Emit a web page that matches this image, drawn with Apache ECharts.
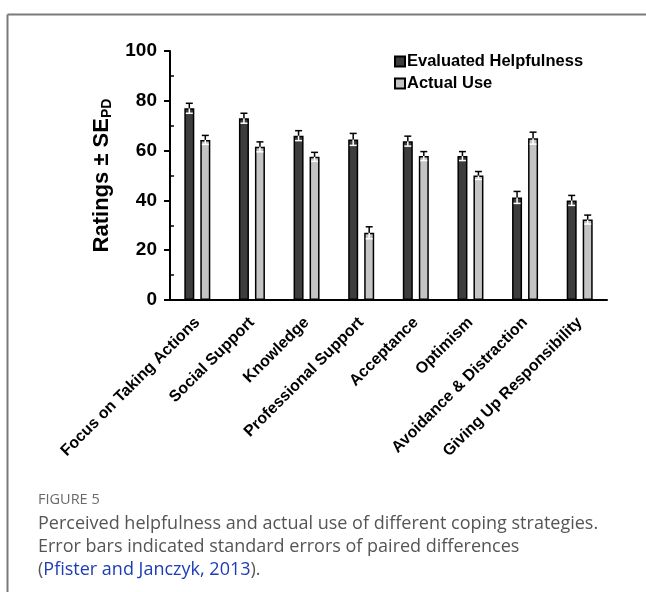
<!DOCTYPE html>
<html>
<head>
<meta charset="utf-8">
<script src="https://cdn.jsdelivr.net/npm/echarts@6/dist/echarts.min.js"></script>
<style>
html,body{margin:0;padding:0;background:#fff;}
#main{width:646px;height:592px;}
</style>
</head>
<body>
<div id="main"></div>
<script>
var categories = ['Focus on Taking Actions','Social Support','Knowledge','Professional Support',
                  'Acceptance','Optimism','Avoidance & Distraction','Giving Up Responsibility'];
var helpfulness = [77, 73, 66, 64.5, 63.8, 57.8, 41.2, 40];
var actualUse   = [64.3, 61.5, 57.5, 27, 57.8, 50, 65, 32.3];
var errHelpful  = [2, 2, 2, 2.4, 2, 1.8, 2.4, 2];
var errActual   = [1.8, 2, 1.8, 2.4, 1.8, 1.6, 2.4, 1.8];
var yTicks = [0, 20, 40, 60, 80, 100];
var yMinorTicks = [10, 30, 50, 70, 90];

var font = 'Arial, "Liberation Sans", sans-serif';
var capFont = '"Open Sans", "Noto Sans", sans-serif';

function errData(vals, errs){
    var out = [];
    for (var i = 0; i < vals.length; i++) out.push([i, vals[i], errs[i]]);
    return out;
}

// error bar: black part above the bar top, white part inside the bar
function errRender(offset){
    return function(params, api){
        var i = api.value(0), v = api.value(1), e = api.value(2);
        var p = api.coord([i, v]);
        var hi = api.coord([i, v + e]);
        var lo = api.coord([i, v - e]);
        var x = p[0] + offset, cap = 3.5;
        return {
            type: 'group',
            children: [
                {type:'line', shape:{x1:x, y1:p[1], x2:x, y2:lo[1]}, style:{stroke:'#fff', lineWidth:1.5}},
                {type:'line', shape:{x1:x-cap, y1:lo[1], x2:x+cap, y2:lo[1]}, style:{stroke:'#fff', lineWidth:1.5}},
                {type:'line', shape:{x1:x, y1:p[1], x2:x, y2:hi[1]}, style:{stroke:'#000', lineWidth:1.5}},
                {type:'line', shape:{x1:x-cap, y1:hi[1], x2:x+cap, y2:hi[1]}, style:{stroke:'#000', lineWidth:1.5}}
            ]
        };
    };
}

var myChart = echarts.init(document.getElementById('main'));
var option = {
    backgroundColor: '#fff',
    animation: false,
    textStyle: {fontFamily: font},
    grid: {left: 170, right: 39, top: 51, bottom: 292, containLabel: false},
    legend: {
        orient: 'vertical',
        left: 394, top: 53,
        itemWidth: 10, itemHeight: 10, itemGap: 5,
        padding: 0,
        icon: 'rect',
        data: ['Evaluated Helpfulness', 'Actual Use'],
        textStyle: {fontFamily: font, fontWeight: 'bold', fontSize: 16.5, color: '#000', padding: [0,0,0,-3]}
    },
    xAxis: {
        type: 'category',
        data: categories,
        axisLine: {lineStyle: {color: '#000', width: 2}},
        axisTick: {show: false},
        axisLabel: {
            rotate: 45, interval: 0, margin: 20,
            fontFamily: font, fontWeight: 'bold', fontSize: 16, color: '#000'
        }
    },
    yAxis: [{
        type: 'value',
        min: 0, max: 100, interval: 20,
        name: 'Ratings ± SE{sub|PD}',
        nameLocation: 'middle',
        nameGap: 52,
        nameTextStyle: {
            fontFamily: font, fontWeight: 'bold', fontSize: 22, color: '#000',
            rich: {sub: {fontFamily: font, fontWeight: 'bold', fontSize: 14, color: '#000', verticalAlign: 'bottom', padding: [10,0,0,0]}}
        },
        axisLine: {show: true, lineStyle: {color: '#000', width: 2}},
        axisTick: {show: true, length: 6, lineStyle: {color: '#000', width: 2}},
        axisLabel: {
            margin: 13, fontFamily: font, fontWeight: 'bold', fontSize: 19, color: '#000',
            customValues: yTicks
        },
        splitLine: {show: false}
    }, {
        type: 'value',
        min: 0, max: 100, interval: 10,
        position: 'left',
        axisLine: {show: false},
        axisTick: {show: true, inside: true, length: 4, lineStyle: {color: '#000', width: 1.5}, customValues: yMinorTicks},
        axisLabel: {show: false},
        splitLine: {show: false}
    }],
    series: [{
        name: 'Evaluated Helpfulness',
        type: 'bar',
        data: helpfulness,
        barWidth: 10,
        barGap: '60%',
        itemStyle: {color: '#3d3d3d', borderColor: '#000', borderWidth: 1.5}
    }, {
        name: 'Actual Use',
        type: 'bar',
        data: actualUse,
        barWidth: 10,
        barGap: '60%',
        itemStyle: {color: '#c4c4c4', borderColor: '#000', borderWidth: 1.5}
    }, {
        type: 'custom',
        z: 5,
        renderItem: errRender(-8),
        data: errData(helpfulness, errHelpful),
        encode: {x: 0, y: 1}
    }, {
        type: 'custom',
        z: 5,
        renderItem: errRender(8),
        data: errData(actualUse, errActual),
        encode: {x: 0, y: 1}
    }],
    graphic: [
        {type: 'line', shape: {x1: 7.5, y1: 14.5, x2: 646, y2: 14.5}, style: {stroke: '#7a7a7a', lineWidth: 2}},
        {type: 'line', shape: {x1: 7.5, y1: 14.5, x2: 7.5, y2: 592}, style: {stroke: '#7a7a7a', lineWidth: 2}},
        {type: 'text', left: 38, top: 492, style: {text: 'FIGURE 5', fontFamily: capFont, fontSize: 14.5, fill: '#6a6a6a'}},
        {type: 'text', left: 38, top: 512, style: {
            text: 'Perceived helpfulness and actual use of different coping strategies.\nError bars indicated standard errors of paired differences\n{p|(}{a|Pfister and Janczyk, 2013}{p|).}',
            fontFamily: capFont, fontSize: 18, lineHeight: 23, fill: '#555',
            rich: {
                p: {fontFamily: capFont, fontSize: 18, fill: '#555'},
                a: {fontFamily: capFont, fontSize: 18, fill: '#1d3cb5'}
            }
        }}
    ]
};
myChart.setOption(option);
</script>
</body>
</html>
